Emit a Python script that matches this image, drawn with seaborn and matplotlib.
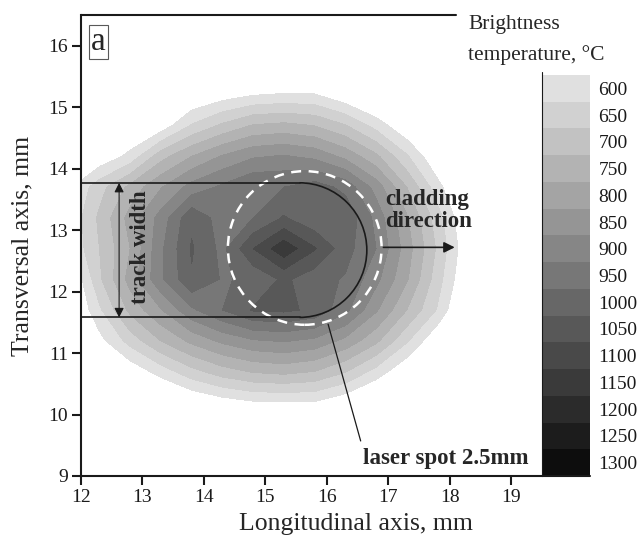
import numpy as np
import matplotlib
matplotlib.use("Agg")
import matplotlib.pyplot as plt
from matplotlib.colors import ListedColormap
from matplotlib.patches import Circle, Arc
import seaborn as sns

# grid of brightness temperature (deg C), rows = y, cols = x
x_mm = [11.8, 12.3, 12.8, 13.3, 13.8, 14.3, 14.8, 15.3, 15.8, 16.3, 16.8, 17.3, 17.8, 18.3, 18.8, 19.3]
y_mm = [9.2, 9.7, 10.2, 10.7, 11.2, 11.7, 12.2, 12.7, 13.2, 13.7, 14.2, 14.7, 15.2, 15.7]
temp_c = [
    [270, 291, 315, 333, 356, 369, 377, 380, 376, 362, 340, 311, 285, 251, 221, 190],
    [322, 356, 386, 415, 440, 458, 471, 475, 469, 451, 419, 382, 342, 297, 260, 223],
    [381, 424, 467, 509, 546, 575, 594, 597, 597, 560, 514, 461, 407, 354, 300, 257],
    [445, 502, 562, 622, 683, 727, 755, 765, 749, 704, 631, 553, 476, 408, 346, 290],
    [510, 582, 670, 751, 813, 862, 894, 905, 887, 836, 762, 657, 551, 461, 387, 320],
    [520, 640, 764, 846, 940, 1000, 1055, 1060, 1040, 965, 857, 750, 645, 509, 419, 346],
    [530, 690, 820, 940, 1045, 995, 1010, 1060, 1020, 995, 915, 806, 672, 541, 442, 363],
    [600, 700, 800, 940, 1055, 985, 1100, 1185, 1105, 1020, 950, 825, 691, 554, 450, 368],
    [605, 710, 820, 920, 1040, 975, 1000, 1055, 1010, 1040, 935, 806, 672, 541, 442, 363],
    [590, 680, 764, 846, 920, 960, 1000, 1000, 1025, 985, 880, 750, 619, 509, 419, 346],
    [530, 560, 615, 730, 800, 855, 894, 905, 887, 836, 762, 657, 551, 461, 387, 320],
    [445, 502, 540, 568, 655, 710, 755, 765, 749, 704, 631, 553, 476, 408, 346, 290],
    [381, 424, 467, 509, 546, 575, 598, 606, 604, 560, 514, 461, 407, 354, 300, 257],
    [322, 356, 386, 415, 440, 458, 471, 475, 469, 451, 419, 382, 342, 297, 260, 223],
]
levels = list(range(600, 1351, 50))
level_labels = [str(v) for v in range(600, 1301, 50)]

sns.set_theme(style="ticks")
plt.rcParams["font.family"] = ["Liberation Serif", "DejaVu Serif"]

fig = plt.figure(figsize=(6.44, 5.37), dpi=100)
ax = fig.add_axes([81 / 644, 61 / 537, 461 / 644, 461 / 537])
cax = fig.add_axes([542 / 644, 61 / 537, 48 / 644, 401 / 537])

grays = np.linspace(0.88, 0.05, len(levels) - 1)
cmap = ListedColormap([(g, g, g) for g in grays])
cs = ax.contourf(x_mm, y_mm, temp_c, levels=levels, cmap=cmap)

ax.set_xlim(12, 19.5)
ax.set_ylim(9, 16.5)
ax.set_xticks(range(12, 20))
ax.set_yticks(range(9, 17))
for s in ["top", "right"]:
    ax.spines[s].set_visible(False)
for s in ["left", "bottom"]:
    ax.spines[s].set_linewidth(1.5)
    ax.spines[s].set_color("k")
ax.tick_params(direction="out", length=6.5, width=1.5, labelsize=14, colors="k", pad=3)
ax.plot([12, 18.1], [16.5, 16.5], color="k", lw=1.5, clip_on=False)

ax.set_xlabel("Longitudinal axis, mm", fontsize=18.5, va="center")
ax.xaxis.set_label_coords(0.597, -0.105)
ax.set_ylabel("Transversal axis, mm", fontsize=18.5, va="center")
ax.yaxis.set_label_coords(-0.128, 0.5)

# colorbar
cb = fig.colorbar(cs, cax=cax)
cb.outline.set_visible(False)
cax.invert_yaxis()
cb.set_ticks([v + 25 for v in levels[:-1]])
cb.set_ticklabels(level_labels)
cax.tick_params(length=0, labelsize=14, pad=6, colors="k")
cax.plot([0, 0], [0, 1.007], transform=cax.transAxes, color="k", lw=0.8, clip_on=False)
cax.plot([0, 1], [0, 0], transform=cax.transAxes, color="k", lw=1.5, clip_on=False)
fig.text(468 / 644, 1 - 25 / 537, "Brightness", fontsize=15.5, va="center", ha="left")
fig.text(468 / 644, 1 - 55 / 537, "temperature, °C", fontsize=15.5, va="center", ha="left")

# track outline and laser spot
ax.plot([12, 15.555], [13.77, 13.77], color="k", lw=1.2)
ax.plot([12, 15.555], [11.58, 11.58], color="k", lw=1.2)
ax.add_patch(Arc((15.555, 12.675), 2.19, 2.19, theta1=-90, theta2=90, color="k", lw=1.2))
ax.add_patch(Circle((15.64, 12.71), 1.25, fill=False, ec="white", lw=1.8, ls=(0, (4, 3))))

ax.annotate("", xy=(12.62, 13.77), xytext=(12.62, 11.58),
            arrowprops=dict(arrowstyle="<|-|>", color="k", lw=0.8, mutation_scale=14,
                            shrinkA=0, shrinkB=0))
ax.text(12.96, 12.73, "track width", rotation=90, fontsize=16.5, fontweight="bold",
        ha="center", va="center")

ax.annotate("", xy=(18.08, 12.72), xytext=(16.92, 12.72),
            arrowprops=dict(arrowstyle="-|>", color="k", lw=1.2, mutation_scale=16,
                            shrinkA=0, shrinkB=0))
ax.text(16.95, 13.32, "cladding\ndirection", fontsize=16.5, fontweight="bold",
        ha="left", va="center", linespacing=1.05)

ax.plot([16.02, 16.55], [11.47, 9.57], color="k", lw=0.9)
ax.text(17.94, 9.28, "laser spot 2.5mm", fontsize=16.5, fontweight="bold",
        ha="center", va="center")

ax.text(12.28, 16.06, "a", fontsize=24, ha="center", va="center",
        bbox=dict(boxstyle="square,pad=0.06", fc="none", ec="0.35", lw=0.8))

fig.savefig("out.png", dpi=100)
